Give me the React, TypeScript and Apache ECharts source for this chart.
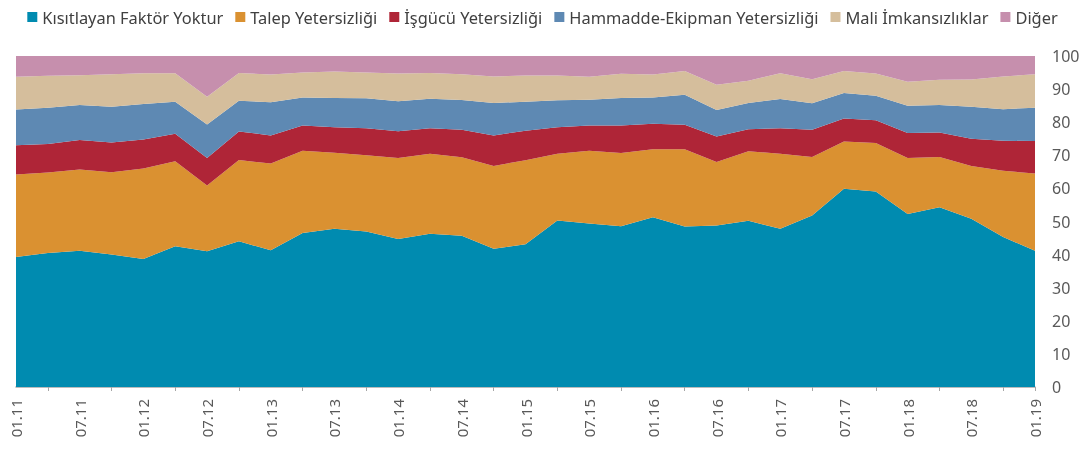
import React, { useEffect, useRef } from "react";
import * as echarts from "echarts";

const categories = [
  "01.11","04.11","07.11","10.11","01.12","04.12","07.12","10.12",
  "01.13","04.13","07.13","10.13","01.14","04.14","07.14","10.14",
  "01.15","04.15","07.15","10.15","01.16","04.16","07.16","10.16",
  "01.17","04.17","07.17","10.17","01.18","04.18","07.18","10.18","01.19",
];

const kisitlayan = [39.3,40.5,41.2,40.0,38.7,42.5,41.0,44.0,41.3,46.5,47.8,47.0,44.7,46.3,45.7,41.8,43.1,50.3,49.4,48.6,51.3,48.5,48.8,50.2,47.8,51.8,59.9,59.1,52.3,54.3,50.8,45.3,41.2];
const talep = [24.9,24.3,24.5,24.9,27.3,25.7,19.9,24.6,26.2,24.9,23.0,23.0,24.5,24.2,23.7,25.0,25.4,20.2,22.0,22.1,20.5,23.3,19.2,21.0,22.7,17.7,14.3,14.6,16.9,15.2,16.0,20.0,23.3];
const isgucu = [8.8,8.6,8.9,9.0,8.8,8.3,8.3,8.6,8.5,7.6,7.7,8.2,8.1,7.7,8.3,9.2,8.9,8.0,7.6,8.3,7.7,7.4,7.7,6.7,7.7,8.2,6.9,6.9,7.5,7.4,8.2,9.1,9.8];
const hammadde = [10.8,11.0,10.6,10.8,10.7,9.7,10.1,9.3,10.0,8.5,8.8,9.0,9.0,8.9,9.0,9.8,8.8,8.1,7.8,8.3,8.0,9.1,8.0,7.9,8.8,8.0,7.7,7.4,8.3,8.3,9.7,9.5,10.1];
const mali = [9.9,9.6,9.0,9.8,9.3,8.6,8.4,8.4,8.4,7.5,8.0,7.8,8.4,7.8,7.8,8.0,7.9,7.5,6.9,7.3,6.9,7.2,7.6,6.7,7.8,7.3,6.7,6.7,7.2,7.6,8.2,9.9,10.1];
const diger = [6.3,6.0,5.8,5.5,5.2,5.2,12.3,5.1,5.6,5.0,4.7,5.0,5.3,5.1,5.5,6.2,5.9,5.9,6.3,5.4,5.6,4.5,8.7,7.5,5.2,7.0,4.5,5.3,7.8,7.2,7.1,6.2,5.5];

const seriesNames = [
  "Kısıtlayan Faktör Yoktur",
  "Talep Yetersizliği",
  "İşgücü Yetersizliği",
  "Hammadde-Ekipman Yetersizliği",
  "Mali İmkansızlıklar",
  "Diğer",
];
const seriesData = [kisitlayan, talep, isgucu, hammadde, mali, diger];
const colors = ["#008BB0", "#DA9131", "#AF2537", "#5E89B3", "#D5BE9C", "#C68FAD"];

export default function App() {
  const ref = useRef<HTMLDivElement>(null);
  useEffect(() => {
    const chart = echarts.init(ref.current!, null, { renderer: "svg" });
    chart.setOption({
      animation: false,
      color: colors,
      textStyle: { fontFamily: "Noto Sans" },
      legend: {
        top: 4,
        left: "center",
        itemWidth: 10,
        itemHeight: 10,
        itemGap: 12,
        icon: "rect",
        textStyle: { fontSize: 16.4, color: "#404040", fontFamily: "Noto Sans" },
        data: seriesNames,
      },
      grid: { left: 16, right: 50, top: 56, bottom: 63, containLabel: false },
      xAxis: {
        type: "category",
        boundaryGap: false,
        data: categories,
        axisLine: { lineStyle: { color: "#A6A6A6", width: 1.5 } },
        axisTick: {
          interval: (i: number) => i % 2 === 1 || i === categories.length - 1,
          length: 4,
          lineStyle: { color: "#A6A6A6" },
        },
        axisLabel: {
          interval: 1,
          rotate: 90,
          color: "#595959",
          fontSize: 15,
          margin: 12,
        },
      },
      yAxis: {
        type: "value",
        position: "right",
        min: 0,
        max: 100,
        interval: 10,
        axisLine: { show: false },
        axisTick: { show: false },
        splitLine: { show: false },
        axisLabel: { color: "#595959", fontSize: 16, margin: 17 },
      },
      series: seriesNames.map((name, k) => ({
        name,
        type: "line",
        stack: "total",
        data: seriesData[k],
        symbol: "none",
        lineStyle: { width: 0 },
        areaStyle: { opacity: 1, color: colors[k] },
        itemStyle: { color: colors[k] },
      })),
    });
    return () => chart.dispose();
  }, []);
  return (
    <div
      ref={ref}
      style={{ position: "fixed", left: 0, top: 0, width: 1085, height: 450 }}
    />
  );
}
